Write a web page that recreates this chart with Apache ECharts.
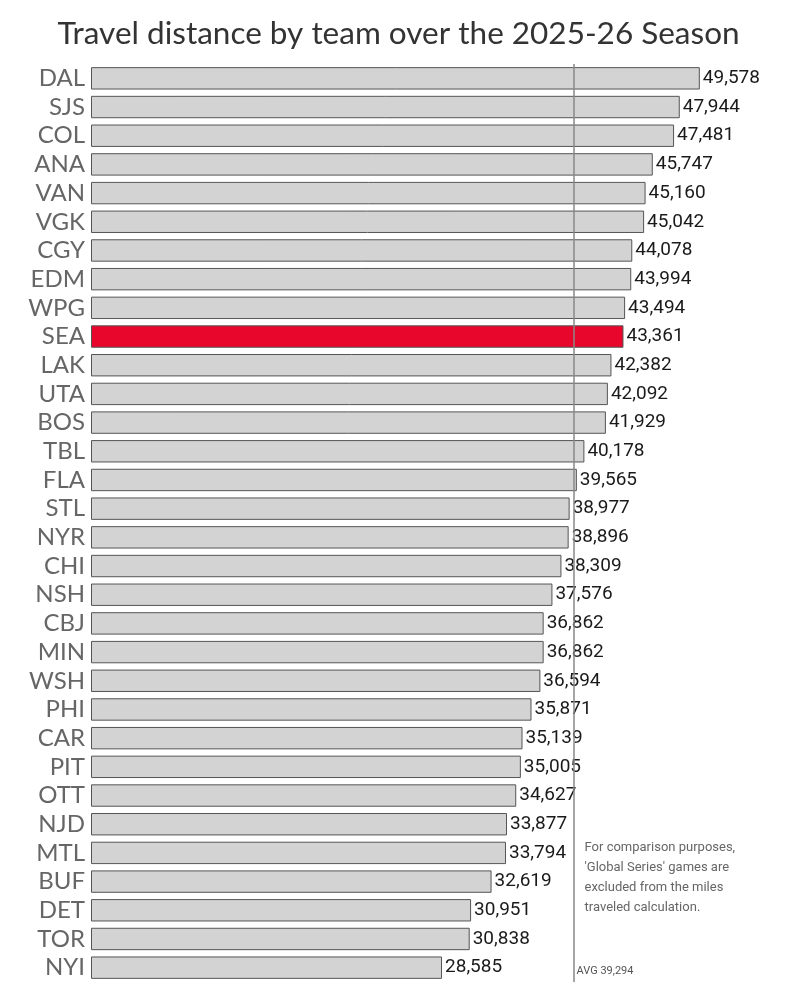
<!DOCTYPE html>
<html><head><meta charset="utf-8">
<script src="https://cdn.jsdelivr.net/npm/echarts@6/dist/echarts.min.js"></script>
<style>html,body{margin:0;padding:0;background:#fff}#c{width:797px;height:990px}</style>
</head><body><div id="c"></div>
<script>
const teams = ["DAL","SJS","COL","ANA","VAN","VGK","CGY","EDM","WPG","SEA","LAK","UTA","BOS","TBL","FLA","STL","NYR","CHI","NSH","CBJ","MIN","WSH","PHI","CAR","PIT","OTT","NJD","MTL","BUF","DET","TOR","NYI"];
const miles = [49578,47944,47481,45747,45160,45042,44078,43994,43494,43361,42382,42092,41929,40178,39565,38977,38896,38309,37576,36862,36862,36594,35871,35139,35005,34627,33877,33794,32619,30951,30838,28585];
const highlightTeam = "SEA";
const avgValue = 39294;
const titleText = "Travel distance by team over the 2025-26 Season";
const noteLines = ["For comparison purposes,","'Global Series' games are","excluded from the miles","traveled calculation."];

const chart = echarts.init(document.getElementById('c'));
const fmt = v => v.toLocaleString('en-US');
chart.setOption({
  animation:false,
  title:{text:titleText,left:'center',top:13,textStyle:{fontFamily:'Lato',fontSize:31.5,fontWeight:'normal',color:'#333'}},
  grid:{left:91,right:92,top:64,bottom:8,containLabel:false},
  xAxis:{type:'value',min:0,max:50000,show:false},
  yAxis:{type:'category',data:teams,inverse:true,axisLine:{show:false},axisTick:{show:false},
    axisLabel:{interval:0,fontFamily:'Lato',fontSize:24,color:'#666',margin:6}},
  series:[{type:'bar',barCategoryGap:'22%',
    data:miles.map((v,i)=>({value:v,itemStyle:{color:teams[i]===highlightTeam?'#e8062d':'#d3d3d3'}})),
    itemStyle:{borderColor:'#555',borderWidth:1},
    label:{show:true,position:'right',distance:3,fontFamily:'Roboto',fontSize:19,color:'#1a1a1a',formatter:p=>fmt(p.value)},
    markLine:{symbol:'none',silent:true,label:{show:false},lineStyle:{color:'#888',width:1.5,type:'solid'},data:[{xAxis:avgValue}]}
  }]
});
const px = chart.convertToPixel({xAxisIndex:0},avgValue);
const yTop = chart.convertToPixel({yAxisIndex:0},"NJD");
const yBot = chart.convertToPixel({yAxisIndex:0},"NYI");
chart.setOption({graphic:[
  {type:'text',left:px+11,top:yTop+14,style:{text:noteLines.join('\n'),fontFamily:'Roboto',fontSize:13,lineHeight:20,fill:'#666'}},
  {type:'text',left:px+3,top:yBot-2,style:{text:'AVG '+fmt(avgValue),fontFamily:'Roboto',fontSize:11,fill:'#555'}}
]});
</script></body></html>
